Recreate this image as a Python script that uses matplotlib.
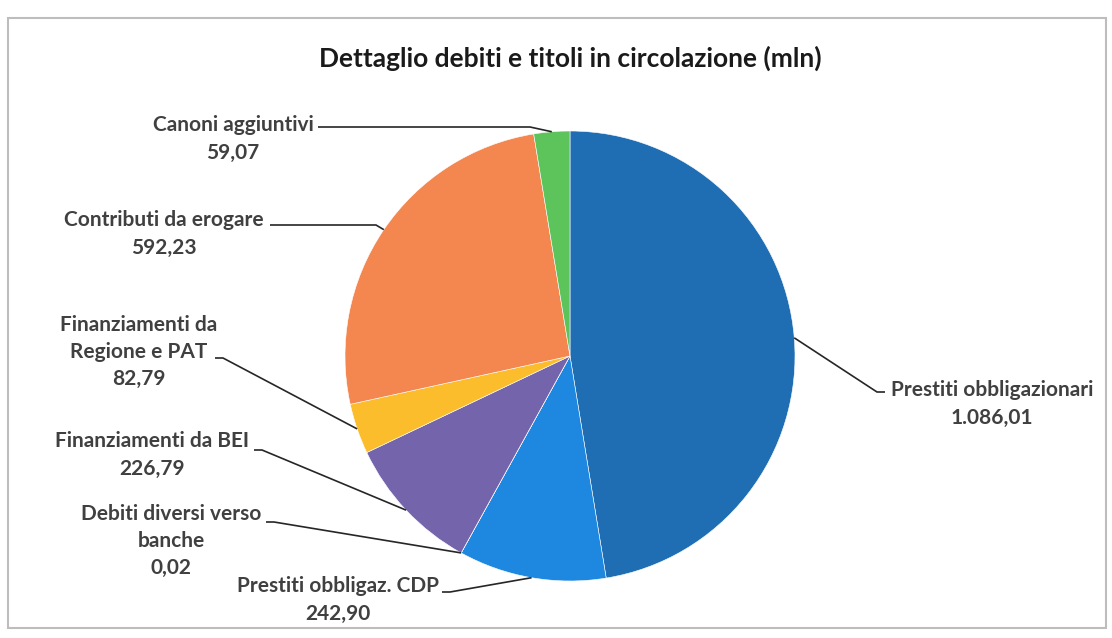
import numpy as np
import matplotlib
matplotlib.use("Agg")
import matplotlib.pyplot as plt
from matplotlib.patches import Rectangle

plt.rcParams['font.family'] = ['Lato', 'DejaVu Sans']

# dati (mln), in senso orario dalle ore 12
categories = ['Prestiti obbligazionari', 'Prestiti obbligaz. CDP', 'Debiti diversi verso\nbanche',
              'Finanziamenti da BEI', 'Finanziamenti da\nRegione e PAT', 'Contributi da erogare',
              'Canoni aggiuntivi']
values = [1086.01, 242.90, 0.02, 226.79, 82.79, 592.23, 59.07]
colors = ['#1f6db3', '#1e88e0', '#9aa0c8', '#7464ab', '#fbbd2c', '#f4864f', '#5cc45a']

W, H = 1112, 638
cx, cy, R = 570, 356, 225   # pixel, y dall'alto


def it_fmt(v):
    s = f"{v:,.2f}"
    return s.replace(',', 'X').replace('.', ',').replace('X', '.')


def P(x, y):
    # pixel (y dall'alto) -> coordinate dati
    return x, H - y


# posizione testo (centro), fine testo da cui parte la linea, lunghezza tratto orizzontale
label_pos = [(992, 404), (338, 600), (171, 541), (152, 455), (139, 352), (164, 234), (233, 139)]
line_start = [(885, 392), (442, 592), (266, 522), (254, 450), (215, 358), (270, 225), (318, 127)]
elbow_dx = [-8, 8, 8, 8, 8, 106, 212]

fig = plt.figure(figsize=(W / 100, H / 100), dpi=100)
ax = fig.add_axes([0, 0, 1, 1])

wedges, _ = ax.pie(values, colors=colors, startangle=90, counterclock=False,
                   center=P(cx, cy), radius=R,
                   wedgeprops=dict(edgecolor='white', linewidth=0.4))
ax.set_xlim(0, W)
ax.set_ylim(0, H)
ax.set_aspect('auto')
ax.axis('off')

for w, cat, v, (tx, ty), (sx, sy), dx in zip(wedges, categories, values,
                                                label_pos, line_start, elbow_dx):
    mid = np.deg2rad((w.theta1 + w.theta2) / 2)
    ax_x = cx + R * np.cos(mid)
    ax_y = cy - R * np.sin(mid)
    xs = [sx, sx + dx, ax_x]
    ys = [sy, sy, ax_y]
    ax.plot(xs, [H - y for y in ys], color='#262626', lw=1.2, solid_capstyle='butt')
    ax.text(*P(tx, ty), cat + '\n' + it_fmt(v), ha='center', va='center',
            fontsize=15, fontweight='bold', color='#404040', linespacing=1.45)

ax.text(*P(570, 58), 'Dettaglio debiti e titoli in circolazione (mln)', ha='center',
        va='center', fontsize=19, fontweight='bold', color='#1a1a1a')

ax.add_patch(Rectangle(P(8, 628), 1098, 610, fill=False, edgecolor='#bdbdbd', lw=1.5))

fig.savefig('out.png', dpi=100)
